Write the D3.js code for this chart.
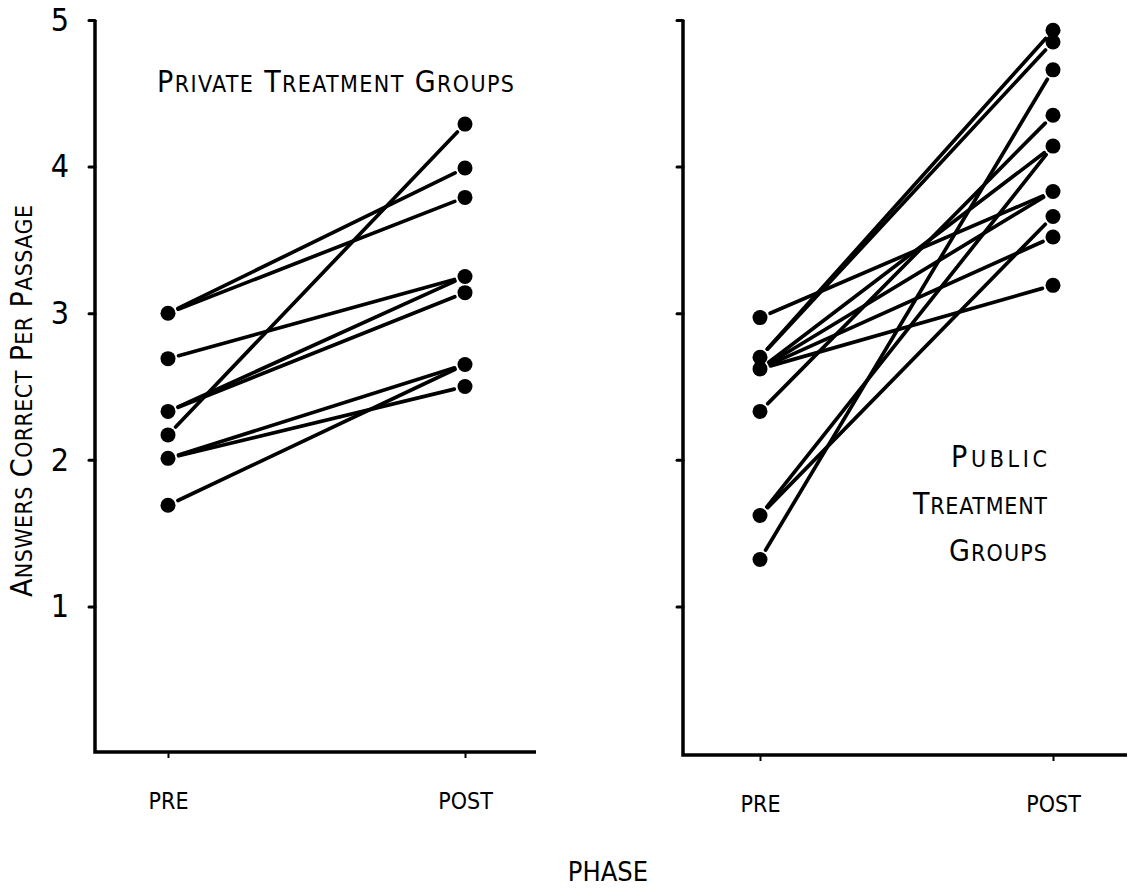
<!DOCTYPE html>
<html>
<head>
<meta charset="utf-8">
<script src="https://cdn.jsdelivr.net/npm/d3@7"></script>
<style>
  html, body { margin: 0; padding: 0; background: #fff; }
  svg { display: block; }
  text { font-family: "DejaVu Sans Condensed", "Liberation Sans Narrow", "DejaVu Sans", sans-serif; fill: #000; }
</style>
</head>
<body>
<svg id="chart" width="1133" height="889"></svg>
<script>
// ── Data ──────────────────────────────────────────────────────────────────────
const phases = ['PRE', 'POST'];
const yTicks = [1, 2, 3, 4, 5];

// private treatment groups (one entry per group)
const privPre  = [3.00, 3.00, 2.69, 2.33, 2.33, 2.17, 2.01, 2.01, 1.69];
const privPost = [3.99, 3.79, 3.25, 3.25, 3.14, 4.29, 2.65, 2.50, 2.65];

// public treatment groups
const pubPre  = [2.97, 2.70, 2.70, 2.62, 2.62, 2.62, 2.62, 2.33, 1.62, 1.62, 1.32];
const pubPost = [3.83, 4.93, 4.85, 4.14, 3.83, 3.52, 3.19, 4.35, 4.14, 3.66, 4.66];

// ── Layout ────────────────────────────────────────────────────────────────────
const svg = d3.select('#chart');
const y = d3.scaleLinear().domain([0, 5]).range([753, 20]);

const panels = [
  { left: 95,  right: 536,  bottom: 752, xr: [168, 465], pre: privPre, post: privPost, labels: true },
  { left: 683, right: 1127, bottom: 755, xr: [760, 1053], pre: pubPre, post: pubPost, labels: false }
];

function shorten(x1, y1, x2, y2, g) {
  const dx = x2 - x1, dy = y2 - y1, len = Math.hypot(dx, dy);
  return [x1 + dx / len * g, y1 + dy / len * g, x2 - dx / len * g, y2 - dy / len * g];
}

panels.forEach(p => {
  const x = d3.scalePoint().domain(phases).range(p.xr);
  const g = svg.append('g');

  // y axis
  const ya = g.append('g').attr('transform', `translate(${p.left},0)`)
    .call(d3.axisLeft(y).tickValues(yTicks).tickSize(6).tickSizeOuter(0).tickPadding(20)
      .tickFormat(p.labels ? d3.format('d') : ''));
  ya.select('.domain').remove();
  ya.selectAll('.tick line').attr('stroke', '#000').attr('stroke-width', 3).attr('stroke-linecap', 'round');
  ya.selectAll('.tick text').attr('font-size', 32).attr('font-weight', 300).attr('fill', '#000');

  // x axis
  const xa = g.append('g').attr('transform', `translate(0,${p.bottom})`)
    .call(d3.axisBottom(x).tickSize(6).tickSizeOuter(0).tickPadding(35));
  xa.select('.domain').remove();
  xa.selectAll('.tick line').attr('stroke', '#000').attr('stroke-width', 2);
  xa.selectAll('.tick text').attr('font-size', 23).attr('fill', '#000');

  // frame lines
  g.append('path')
    .attr('d', `M${p.left},${y(5)}V${p.bottom}H${p.right}`)
    .attr('fill', 'none').attr('stroke', '#000').attr('stroke-width', 3.5);

  // connecting lines
  const segs = p.pre.map((v, i) => shorten(x('PRE'), y(v), x('POST'), y(p.post[i]), 11));
  g.append('g').selectAll('line').data(segs).join('line')
    .attr('x1', d => d[0]).attr('y1', d => d[1]).attr('x2', d => d[2]).attr('y2', d => d[3])
    .attr('stroke', '#000').attr('stroke-width', 3.7).attr('stroke-linecap', 'round');

  // dots
  const dots = [...new Set(p.pre)].map(v => ['PRE', v]).concat([...new Set(p.post)].map(v => ['POST', v]));
  g.append('g').selectAll('circle').data(dots).join('circle')
    .attr('cx', d => x(d[0])).attr('cy', d => y(d[1])).attr('r', 7.5).attr('fill', '#000');
});

// ── Text (small caps built from two sizes) ────────────────────────────────────
function smallCaps(sel, str, big, small) {
  str.split(' ').forEach((w, i) => {
    sel.append('tspan').attr('font-size', big).text((i ? ' ' : '') + w[0]);
    if (w.length > 1) sel.append('tspan').attr('font-size', small).text(w.slice(1).toUpperCase());
  });
  return sel;
}

smallCaps(svg.append('text').attr('x', 157).attr('y', 92)
  .attr('textLength', 357).attr('lengthAdjust', 'spacing'), 'Private Treatment Groups', 30, 23);

const pubLines = ['Public', 'Treatment', 'Groups'];
const pubWidths = [96, 134, 98];
pubLines.forEach((s, i) => {
  smallCaps(svg.append('text').attr('x', 1047 - pubWidths[i]).attr('y', 467 + i * 47)
    .attr('textLength', pubWidths[i]).attr('lengthAdjust', 'spacing'), s, 30, 23);
});

smallCaps(svg.append('text').attr('transform', 'translate(32,597) rotate(-90)')
  .attr('textLength', 392).attr('lengthAdjust', 'spacing'), 'Answers Correct Per Passage', 30, 23);

svg.append('text')
  .attr('x', 608).attr('y', 881).attr('text-anchor', 'middle')
  .attr('font-size', 27)
  .text('PHASE');
</script>
</body>
</html>
